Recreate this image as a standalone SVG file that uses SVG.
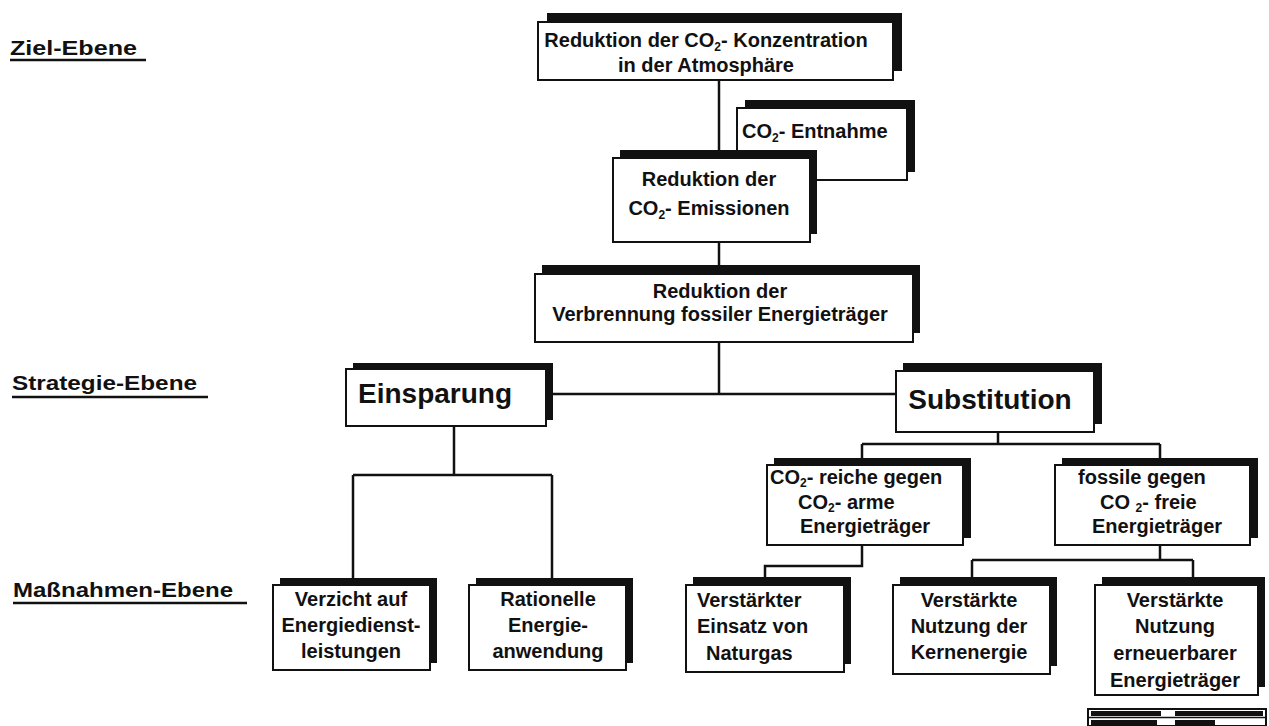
<svg xmlns="http://www.w3.org/2000/svg" width="1269" height="726" viewBox="0 0 1269 726">
<style>
.sh{fill:#111}
.bx{fill:#fff;stroke:#111;stroke-width:2}
.t{font-family:"Liberation Sans",Arial,Helvetica,sans-serif;font-weight:bold;font-size:20px;fill:#111}
.c{text-anchor:middle}
.big{font-size:28px}
.lvl{font-family:"Liberation Sans",Arial,Helvetica,sans-serif;font-weight:bold;font-size:21px;fill:#111}
.ul{stroke:#111;stroke-width:2.5}
.sub{font-size:12px}
.ln{fill:none;stroke:#111;stroke-width:2.5}
</style>
<rect width="1269" height="726" fill="#fff"/>

<g id="levels">
  <text class="lvl" x="10" y="55" textLength="127" lengthAdjust="spacingAndGlyphs">Ziel-Ebene</text>
  <line class="ul" x1="10" y1="60" x2="146" y2="60"/>
  <text class="lvl" x="12" y="390" textLength="185" lengthAdjust="spacingAndGlyphs">Strategie-Ebene</text>
  <line class="ul" x1="12" y1="397" x2="208" y2="397"/>
  <text class="lvl" x="13" y="597" textLength="220" lengthAdjust="spacingAndGlyphs">Maßnahmen-Ebene</text>
  <line class="ul" x1="13" y1="603" x2="247" y2="603"/>
</g>

<g id="connectors">
  <path class="ln" d="M719 80 V150"/>
  <path class="ln" d="M719 242 V265"/>
  <path class="ln" d="M719 342 V394"/>
  <path class="ln" d="M553 394 H896"/>
  <path class="ln" d="M454 426 V475 M353 475 H552 M353 475 V578 M552 475 V578"/>
  <path class="ln" d="M998 432 V444 M862 444 H1160 M862 444 V458 M1160 444 V458"/>
  <path class="ln" d="M862 545 V566 H765 V577"/>
  <path class="ln" d="M1160 545 V560 M972 560 H1193 M972 560 V577 M1193 560 V577"/>
</g>

<g id="n-ziel">
  <rect class="sh" x="547" y="13" width="355" height="58"/>
  <rect class="bx" x="538" y="22" width="355" height="58"/>
  <text class="t c" x="706" y="47" font-size="19.5">Reduktion der CO<tspan class="sub" dy="4">2</tspan><tspan dy="-4">- Konzentration</tspan></text>
  <text class="t c" x="706" y="72" font-size="19.5">in der Atmosphäre</text>
</g>

<g id="n-entnahme">
  <rect class="sh" x="745" y="100" width="170" height="72"/>
  <rect class="bx" x="737" y="108" width="170" height="72"/>
  <text class="t" x="742" y="138">CO<tspan class="sub" dy="4">2</tspan><tspan dy="-4">- Entnahme</tspan></text>
</g>

<g id="n-emission">
  <rect class="sh" x="620" y="150" width="197" height="84"/>
  <rect class="bx" x="613" y="158" width="197" height="84"/>
  <text class="t c" x="709" y="186">Reduktion der</text>
  <text class="t c" x="709" y="215">CO<tspan class="sub" dy="4">2</tspan><tspan dy="-4">- Emissionen</tspan></text>
</g>

<g id="n-verbrennung">
  <rect class="sh" x="542" y="265" width="378" height="68"/>
  <rect class="bx" x="535" y="274" width="378" height="68"/>
  <text class="t c" x="720" y="298">Reduktion der</text>
  <text class="t c" x="720" y="321" font-size="19.5">Verbrennung fossiler Energieträger</text>
</g>

<g id="n-einsparung">
  <rect class="sh" x="353" y="363" width="200" height="57"/>
  <rect class="bx" x="346" y="369" width="200" height="57"/>
  <text class="t big" x="358" y="403">Einsparung</text>
</g>

<g id="n-substitution">
  <rect class="sh" x="903" y="363" width="199" height="61"/>
  <rect class="bx" x="896" y="371" width="198" height="61"/>
  <text class="t big c" x="990" y="409">Substitution</text>
</g>

<g id="n-co2arm">
  <rect class="sh" x="774" y="458" width="197" height="80"/>
  <rect class="bx" x="767" y="465" width="196" height="80"/>
  <text class="t" x="770" y="484">CO<tspan class="sub" dy="3">2</tspan><tspan dy="-3">- reiche gegen</tspan></text>
  <text class="t" x="798" y="509">CO<tspan class="sub" dy="3">2</tspan><tspan dy="-3">- arme</tspan></text>
  <text class="t" x="800" y="533">Energieträger</text>
</g>

<g id="n-co2frei">
  <rect class="sh" x="1062" y="458" width="196" height="80"/>
  <rect class="bx" x="1055" y="465" width="195" height="80"/>
  <text class="t" x="1078" y="484">fossile gegen</text>
  <text class="t" x="1100" y="509">CO <tspan class="sub" dy="3">2</tspan><tspan dy="-3">- freie</tspan></text>
  <text class="t" x="1092" y="533">Energieträger</text>
</g>

<g id="n-verzicht">
  <rect class="sh" x="280" y="578" width="157" height="85"/>
  <rect class="bx" x="273" y="585" width="157" height="85"/>
  <text class="t c" x="351" y="606">Verzicht auf</text>
  <text class="t c" x="351" y="632">Energiedienst-</text>
  <text class="t c" x="351" y="658">leistungen</text>
</g>

<g id="n-rationell">
  <rect class="sh" x="476" y="578" width="157" height="85"/>
  <rect class="bx" x="469" y="585" width="157" height="85"/>
  <text class="t c" x="548" y="606">Rationelle</text>
  <text class="t c" x="548" y="632">Energie-</text>
  <text class="t c" x="548" y="658">anwendung</text>
</g>

<g id="n-naturgas">
  <rect class="sh" x="693" y="577" width="158" height="87"/>
  <rect class="bx" x="686" y="585" width="158" height="87"/>
  <text class="t" x="697" y="607">Verstärkter</text>
  <text class="t" x="697" y="633">Einsatz von</text>
  <text class="t" x="706" y="660">Naturgas</text>
</g>

<g id="n-kern">
  <rect class="sh" x="900" y="577" width="157" height="89"/>
  <rect class="bx" x="893" y="585" width="157" height="89"/>
  <text class="t c" x="969" y="607">Verstärkte</text>
  <text class="t c" x="969" y="633">Nutzung der</text>
  <text class="t c" x="969" y="659">Kernenergie</text>
</g>

<g id="n-erneuerbar">
  <rect class="sh" x="1102" y="577" width="163" height="110"/>
  <rect class="bx" x="1095" y="585" width="163" height="110"/>
  <text class="t c" x="1175" y="607">Verstärkte</text>
  <text class="t c" x="1175" y="633">Nutzung</text>
  <text class="t c" x="1175" y="660">erneuerbarer</text>
  <text class="t c" x="1175" y="687">Energieträger</text>
</g>

<g id="stamp">
  <rect x="1088" y="709" width="178" height="17" fill="#fff" stroke="#111" stroke-width="2"/>
  <line x1="1088" y1="717.5" x2="1266" y2="717.5" stroke="#111" stroke-width="1.5"/>
  <rect x="1091" y="711" width="70" height="5" fill="#111"/>
  <rect x="1175" y="711" width="88" height="5" fill="#111"/>
  <rect x="1091" y="720" width="66" height="5" fill="#111"/>
  <rect x="1175" y="720" width="40" height="5" fill="#111"/>
</g>
</svg>
